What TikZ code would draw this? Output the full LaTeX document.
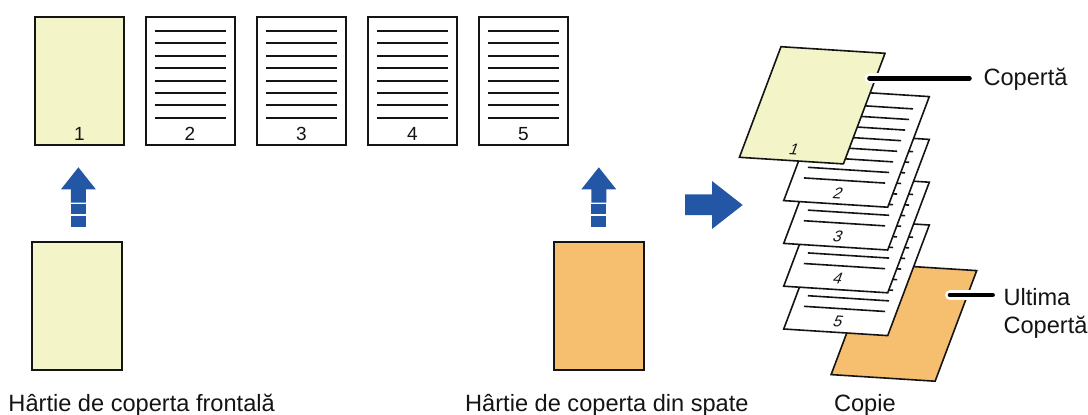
\documentclass[tikz,border=0pt]{standalone}
\usepackage{fontspec}
\setmainfont{Liberation Sans}
\usetikzlibrary{calc}
\definecolor{coverY}{RGB}{243,245,200}
\definecolor{backO}{RGB}{246,191,112}
\definecolor{arrowB}{RGB}{35,87,165}
\definecolor{ink}{RGB}{20,20,20}
\begin{document}
\begin{tikzpicture}[x=1pt,y=-1pt,
  toppage/.style={draw=ink, line width=2pt, minimum width=89pt, minimum height=128pt, inner sep=0pt, fill=white},
  topline/.style={draw=ink, line width=2pt},
  topnum/.style={font=\fontsize{19}{22}\selectfont, text=ink, inner sep=0pt, anchor=base},
  stackpage/.style={draw=ink, line width=1.6pt, line join=miter},
  stackline/.style={draw=ink, line width=1.6pt},
  stacknum/.style={font=\fontsize{15.5}{18}\selectfont, text=ink, inner sep=0pt, cm={1,-0.0635,0.376,1,(0,0)}},
  label/.style={font=\fontsize{23.6}{28.3}\selectfont, text=ink, inner ysep=0pt},
  leader/.style={draw=black, line width=4.7pt, line cap=round,
     preaction={draw=white, line width=10pt, line cap=round}},
  arrowfill/.style={fill=arrowB, draw=none},
  uparrow/.pic={
    \fill[arrowfill] (-17.4,189.3) -- (0,167.3) -- (17.4,189.3) -- (7.5,189.3) -- (7.5,202.7) -- (-7.5,202.7) -- (-7.5,189.3) -- cycle;
    \fill[arrowfill] (-7.5,204.3) rectangle (7.5,214);
    \fill[arrowfill] (-7.5,216) rectangle (7.5,226.7);
  }]
\useasboundingbox (0,0) rectangle (1088,415);

% top row of pages
\node[toppage, fill=coverY] (p1) at (79.5,81) {};
\node[toppage] (p2) at (190,81) {};
\node[toppage] (p3) at (301.5,81) {};
\node[toppage] (p4) at (412.5,81) {};
\node[toppage] (p5) at (523.5,81) {};
\foreach \i in {2,...,5}{
  \foreach \k in {0,...,7}{
    \draw[topline] ($(p\i.north)+(-35.5,15+12.4*\k)$) -- ++(71,0);
  }
}
\foreach \i in {1,...,5}{
  \node[topnum] (n\i) at ($(p\i.south)+(0,-5.5)$) {\i};
}

% up arrows
\pic (upL) at (78.4,0) {uparrow};
\pic (upR) at (598.8,0) {uparrow};

% bottom sheets
\node[toppage, fill=coverY, minimum width=90pt] (front) at (77,306) {};
\node[toppage, fill=backO, minimum width=90pt] (back) at (599,306) {};

% right arrow
\fill[arrowfill] (685,194.3) -- (712,194.3) -- (712,181) -- (742.7,205) -- (712,229) -- (712,215) -- (685,215) -- cycle;

% stack: back cover
\begin{scope}[shift={(872.7,264)}, x={(1pt,-0.0635pt)}, y={(-0.376pt,-1pt)}]
  \draw[stackpage, fill=backO] (0,0) -- (104,0) -- (104,110.6) -- (0,110.6) -- cycle;
\end{scope}
% stack: pages 5..2
\foreach \ty/\num in {218.4/5,175.6/4,132.8/3,90/2}{
  \begin{scope}[shift={(825.3,\ty)}, x={(1pt,-0.0635pt)}, y={(-0.376pt,-1pt)}]
    \draw[stackpage, fill=white] (0,0) -- (104,0) -- (104,110.6) -- (0,110.6) -- cycle;
    \foreach \k in {0,...,7}{
      \draw[stackline] (11.4,13+10.6*\k) -- (92.6,13+10.6*\k);
    }
    \node[stacknum] (sn\num) at (50.6,100) {\num};
  \end{scope}
}
% stack: front cover
\begin{scope}[shift={(781,46.7)}, x={(1pt,-0.0635pt)}, y={(-0.376pt,-1pt)}]
  \draw[stackpage, fill=coverY] (0,0) -- (104,0) -- (104,110.6) -- (0,110.6) -- cycle;
  \node[stacknum] (sn1) at (51,100) {1};
\end{scope}

% labels
\node[label, anchor=base west, inner xsep=13.9pt] (lblCover) at (969.4,85) {Copertă};
\node[label, anchor=west, align=left, inner xsep=10.7pt] (lblBack) at (992.6,313.2) {Ultima\\Copertă};
\coordinate (cc) at (869.5,78.3);
\coordinate (cu) at (950,295);
\draw[leader] (cc) -- (cc -| lblCover.west);
\draw[leader] (cu) -- (cu -| lblBack.west);

\node[label, anchor=base west, inner sep=0pt] (capFront) at (8.3,411.5) {Hârtie de coperta frontală};
\node[label, anchor=base west, inner sep=0pt] (capBack) at (465,411.5) {Hârtie de coperta din spate};
\node[label, anchor=base west, inner sep=0pt] (capCopy) at (833.8,411.5) {Copie};
\end{tikzpicture}
\end{document}
